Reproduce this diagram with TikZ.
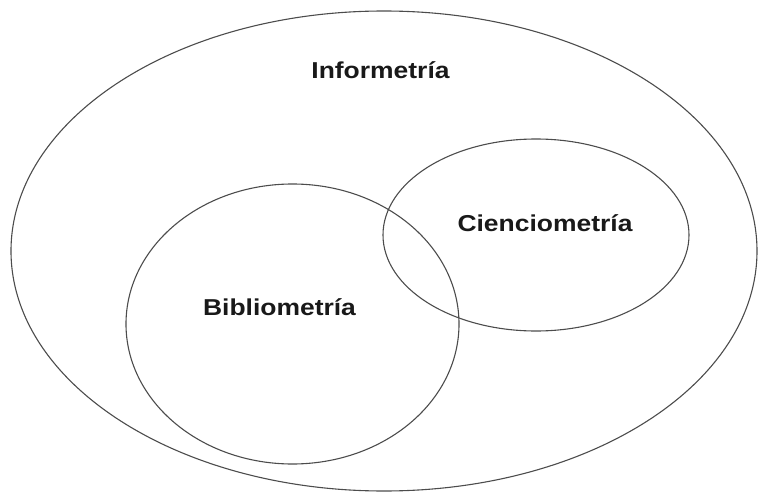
\documentclass[tikz,border=0pt]{standalone}
\usepackage{fontspec}
\setmainfont{Liberation Sans}
\usetikzlibrary{shapes.geometric}
\tikzset{
  setring/.style={draw=black!70, line width=1.1pt, ellipse, inner sep=0pt, outer sep=0pt},
  setlabel/.style={font=\fontsize{23}{26}\selectfont\bfseries, anchor=base, inner sep=0pt, xscale=1.15, text=black!90}
}
\begin{document}
\begin{tikzpicture}[x=1pt, y=-1pt]
  \useasboundingbox (0,0) rectangle (761,495);
  % outer set: informetrics
  \node[setring, minimum width=746pt, minimum height=480pt] (info) at (384,251) {};
  % bibliometrics
  \node[setring, minimum width=333pt, minimum height=280pt] (biblio) at (292.5,324) {};
  % scientometrics
  \node[setring, minimum width=306pt, minimum height=192pt] (cienc) at (536,235) {};
  % labels
  \node[setlabel] (infolab) at (380.5,79) {Informetría};
  \node[setlabel] (cienclab) at (545,231) {Cienciometría};
  \node[setlabel] (bibliolab) at (279.5,315) {Bibliometría};
\end{tikzpicture}
\end{document}
